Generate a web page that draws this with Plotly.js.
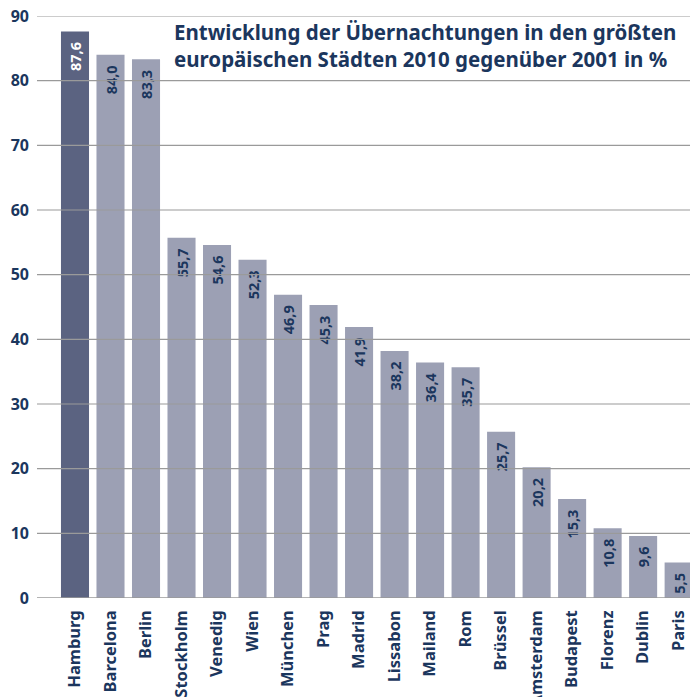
<!DOCTYPE html>
<html>
<head>
<meta charset="utf-8">
<script src="https://cdn.plot.ly/plotly-3.0.1.min.js"></script>
<style>
  html, body { margin: 0; padding: 0; background: #fff; }
  #chart { width: 690px; height: 697px; }
</style>
</head>
<body>
<div id="chart"></div>
<script>
// Übernachtungen 2010 vs 2001, Veränderung in %
var cities = ['Hamburg', 'Barcelona', 'Berlin', 'Stockholm', 'Venedig', 'Wien', 'München', 'Prag',
  'Madrid', 'Lissabon', 'Mailand', 'Rom', 'Brüssel', 'Amsterdam', 'Budapest', 'Florenz', 'Dublin', 'Paris'];
var growth = [87.6, 84.0, 83.3, 55.7, 54.6, 52.3, 46.9, 45.3, 41.9, 38.2, 36.4, 35.7, 25.7, 20.2, 15.3, 10.8, 9.6, 5.5];
var yTicks = [0, 10, 20, 30, 40, 50, 60, 70, 80, 90];

var navy = '#1b365d';
var fontFam = 'Noto Sans';

var barColors = cities.map(function (c) { return c === 'Hamburg' ? '#5b6381' : '#9ca0b4'; });
var labelColors = cities.map(function (c) { return c === 'Hamburg' ? '#ffffff' : navy; });

var bars = {
    x: cities,
    y: growth,
    type: 'bar',
    width: 0.79,
    marker: { color: barColors },
    texttemplate: '<b>%{y:.1f}</b>\u00a0\u00a0',
    textposition: 'inside',
    insidetextanchor: 'end',
    textangle: -90,
    constraintext: 'none',
    textfont: { family: fontFam, size: 14.5, color: labelColors },
    hoverinfo: 'x+y'
};

// gridlines sit on top of the bars in the original
var gridShapes = yTicks.map(function (v) {
    return {
        type: 'line', xref: 'paper', yref: 'y', x0: 0, x1: 1, y0: v, y1: v,
        layer: 'above',
        line: { color: '#9a9a9a', width: v === 0 ? 1.6 : 1.2 }
    };
});

var layout = {
    width: 690,
    height: 697,
    margin: { l: 37, r: 0, t: 16, b: 99 },
    paper_bgcolor: '#ffffff',
    plot_bgcolor: '#ffffff',
    separators: ',.',
    showlegend: false,
    font: { family: fontFam, color: navy },
    xaxis: {
        range: [-1.07, 17.32],
        tickangle: -90,
        tickfont: { family: fontFam, size: 16.5, color: navy, weight: 'bold' },
        showgrid: false,
        zeroline: false,
        showline: false,
        ticks: '',
        ticklabelstandoff: 8,
        automargin: false
    },
    yaxis: {
        range: [0, 90],
        tickvals: yTicks,
        tickfont: { family: fontFam, size: 16, color: navy, weight: 'bold' },
        showgrid: false,
        zeroline: false,
        showline: false,
        ticks: '',
        ticklabelstandoff: 7,
        automargin: false
    },
    shapes: gridShapes,
    annotations: [{
        xref: 'paper', yref: 'paper', x: 0.982, y: 1.0,
        xanchor: 'right', yanchor: 'top', align: 'left',
        showarrow: false,
        text: '<b>Entwicklung der Übernachtungen in den größten</b><br><b>europäischen Städten 2010 gegenüber 2001 in %</b>',
        font: { family: fontFam, size: 20.5, color: navy }
    }]
};

Plotly.newPlot('chart', [bars], layout, { displayModeBar: false, staticPlot: true });
</script>
</body>
</html>
